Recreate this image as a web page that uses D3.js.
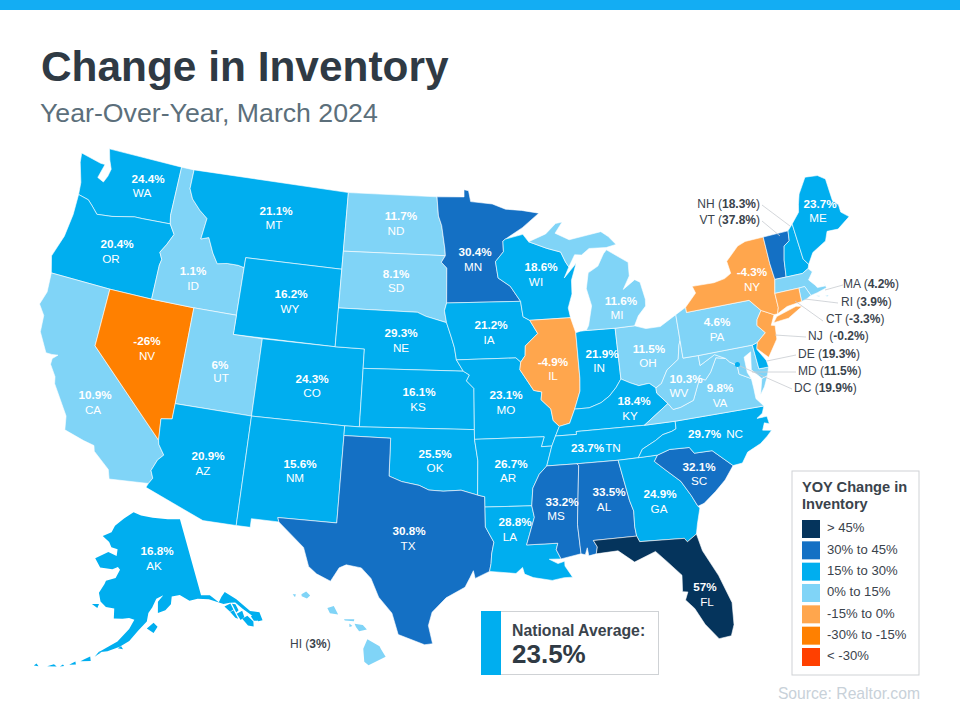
<!DOCTYPE html>
<html><head><meta charset="utf-8">
<script src="https://cdn.jsdelivr.net/npm/d3@7"></script>
<style>html,body{margin:0;padding:0;background:#fff}svg{display:block;font-family:"Liberation Sans",Arial,sans-serif}</style>
</head><body><svg id="c" width="960" height="720"></svg>
<script>
// ---------- data ----------
const stateCodes  = ["WA","OR","CA","NV","ID","MT","WY","UT","CO","AZ","NM","ND","SD","NE","KS","OK","TX","MN","IA","MO","AR","LA","WI","IL","MI","IN","OH","KY","TN","MS","AL","GA","FL","SC","NC","VA","WV","PA","NY","ME","AK","HI","NH","VT","MA","RI","CT","NJ","DE","MD","DC"];
const stateValues = [24.4,20.4,10.9,-26,1.1,21.1,16.2,6,24.3,20.9,15.6,11.7,8.1,29.3,16.1,25.5,30.8,30.4,21.2,23.1,26.7,28.8,18.6,-4.9,11.6,21.9,11.5,18.4,23.7,33.2,33.5,24.9,57,32.1,29.7,9.8,10.3,4.6,-4.3,23.7,16.8,3,18.3,37.8,4.2,3.9,-3.3,-0.2,19.3,11.5,19.9];
const legendLabels = ["> 45%","30% to 45%","15% to 30%","0% to 15%","-15% to 0%","-30% to -15%","< -30%"];
const legendBreaks = [-30,-15,0,15,30,45];
const binColors    = ["#ff4000","#ff8000","#ffa64d","#80d4f7","#00aeef","#1470c4","#05345c"];
const nationalAverage = "23.5%";

// state outlines as lon/lat rings
const outlines = {
WA:[[[-124.7,48.38],[-123.1,48.15],[-122.75,48.15],[-123,47.4],[-122.5,47.25],[-122.3,47.6],[-122.2,48],[-122.5,48.45],[-122.76,49],[-117.03,49],[-117.04,46.42],[-116.92,45.99],[-119,45.93],[-119.6,45.92],[-121.2,45.65],[-122.3,45.55],[-122.8,45.9],[-123.2,46.15],[-124,46.27],[-124.1,46.9],[-124.6,47.9]]],
OR:[[[-124,46.27],[-123.2,46.15],[-122.8,45.9],[-122.3,45.55],[-121.2,45.65],[-119.6,45.92],[-119,45.93],[-116.92,45.99],[-116.48,45.5],[-116.85,44.9],[-117.2,44.45],[-116.95,44.1],[-117.03,43.8],[-117.03,42],[-120,42],[-124.21,42],[-124.55,42.84],[-124.1,44],[-123.95,45.2]]],
CA:[[[-124.21,42],[-120,42],[-120,39],[-114.63,35],[-114.57,34.8],[-114.13,34.3],[-114.45,34],[-114.72,33.4],[-114.52,33.03],[-114.72,32.72],[-117.12,32.53],[-117.3,33],[-118.4,33.75],[-118.5,34.03],[-119.2,34.15],[-120.5,34.45],[-120.65,35.15],[-121.9,36.6],[-122,36.95],[-122.5,37.5],[-122.5,37.8],[-122.2,38.05],[-122.6,38],[-123,38],[-123.75,38.95],[-123.85,39.8],[-124.35,40.3],[-124.1,41]]],
NV:[[[-120,42],[-117.03,42],[-114.04,42],[-114.04,37],[-114.05,36.2],[-114.75,36.1],[-114.63,35],[-120,39]]],
ID:[[[-117.03,49],[-116.05,49],[-116.05,48],[-115.7,47.5],[-115,47],[-114.35,46.65],[-114.5,45.55],[-113.95,45.7],[-113.45,44.95],[-113,44.45],[-112.3,44.55],[-111.5,44.55],[-111.05,44.48],[-111.05,42],[-114.04,42],[-117.03,42],[-117.03,43.8],[-116.95,44.1],[-117.2,44.45],[-116.85,44.9],[-116.48,45.5],[-116.92,45.99],[-117.04,46.42]]],
MT:[[[-116.05,49],[-104.05,49],[-104.05,45.94],[-104.05,45],[-111.05,45],[-111.05,44.48],[-111.5,44.55],[-112.3,44.55],[-113,44.45],[-113.45,44.95],[-113.95,45.7],[-114.5,45.55],[-114.35,46.65],[-115,47],[-115.7,47.5],[-116.05,48]]],
WY:[[[-111.05,45],[-104.05,45],[-104.05,43],[-104.05,41],[-111.05,41],[-111.05,42],[-111.05,44.48]]],
UT:[[[-114.04,42],[-111.05,42],[-111.05,41],[-109.05,41],[-109.05,37],[-114.04,37]]],
CO:[[[-109.05,41],[-104.05,41],[-102.05,41],[-102.05,40],[-102.05,37],[-103,37],[-109.05,37]]],
AZ:[[[-114.75,36.1],[-114.05,36.2],[-114.04,37],[-109.05,37],[-109.05,31.33],[-111.07,31.33],[-114.82,32.5],[-114.72,32.72],[-114.52,33.03],[-114.72,33.4],[-114.45,34],[-114.13,34.3],[-114.57,34.8],[-114.63,35]]],
NM:[[[-109.05,37],[-103,37],[-103,36.5],[-103.04,32],[-106.62,32],[-106.53,31.78],[-108.2,31.78],[-108.2,31.33],[-109.05,31.33]]],
ND:[[[-104.05,49],[-97.23,49],[-97.1,48],[-96.85,47.5],[-96.6,46.3],[-96.56,45.94],[-104.05,45.94]]],
SD:[[[-104.05,45.94],[-96.56,45.94],[-96.85,45.6],[-96.45,45.3],[-96.45,43.5],[-96.6,43.1],[-96.45,42.49],[-97.9,42.8],[-98.5,43],[-104.05,43],[-104.05,45]]],
NE:[[[-104.05,43],[-98.5,43],[-97.9,42.8],[-96.45,42.49],[-96.1,41.7],[-95.9,41.2],[-95.77,40.58],[-95.31,40],[-102.05,40],[-102.05,41],[-104.05,41]]],
KS:[[[-102.05,40],[-95.31,40],[-94.9,39.8],[-95.1,39.5],[-94.61,39.11],[-94.62,37],[-102.05,37]]],
OK:[[[-103,37],[-102.05,37],[-94.62,37],[-94.62,36.5],[-94.43,35.4],[-94.48,33.64],[-95.5,33.9],[-96.6,33.85],[-97.5,33.9],[-98.1,34.13],[-99.2,34.3],[-100,34.56],[-100,36.5],[-103,36.5]]],
TX:[[[-103,36.5],[-100,36.5],[-100,34.56],[-99.2,34.3],[-98.1,34.13],[-97.5,33.9],[-96.6,33.85],[-95.5,33.9],[-94.48,33.64],[-94.04,33.55],[-94.04,33.02],[-94.04,32],[-93.55,31.2],[-93.7,30.6],[-93.75,30.1],[-93.85,29.7],[-94.7,29.35],[-94.8,29.75],[-95,29.4],[-95.3,28.9],[-96.4,28.35],[-97.2,27.6],[-97.4,26.9],[-97.15,25.96],[-97.6,25.9],[-99.1,26.4],[-99.5,27.5],[-100.3,28.3],[-100.8,29.25],[-101.4,29.77],[-102.3,29.88],[-102.7,29.7],[-103.15,28.98],[-104,29.3],[-104.5,29.65],[-104.9,30.6],[-106.53,31.78],[-106.62,32],[-103.04,32]]],
MN:[[[-97.23,49],[-95.15,49],[-95.15,49.38],[-94.8,49.32],[-94.65,48.75],[-93,48.6],[-92,48.3],[-90.8,48.2],[-89.5,48],[-90.8,47.3],[-92.1,46.75],[-92.3,46.65],[-92.29,46.1],[-92.9,45.6],[-92.75,44.75],[-91.9,44.3],[-91.22,43.5],[-96.45,43.5],[-96.45,45.3],[-96.85,45.6],[-96.56,45.94],[-96.6,46.3],[-96.85,47.5],[-97.1,48]]],
IA:[[[-96.45,43.5],[-91.22,43.5],[-91.1,42.7],[-90.65,42.5],[-90.15,41.8],[-91.05,41.2],[-91.1,40.7],[-91.42,40.38],[-91.73,40.61],[-95.77,40.58],[-95.9,41.2],[-96.1,41.7],[-96.45,42.49],[-96.6,43.1]]],
MO:[[[-95.77,40.58],[-91.73,40.61],[-91.42,40.38],[-91.5,40],[-90.65,38.9],[-90.12,38.8],[-90.2,38.4],[-89.6,37.9],[-89.5,37.3],[-89.13,36.98],[-89.42,36.5],[-89.7,36],[-90.37,36],[-90.15,36.5],[-94.62,36.5],[-94.62,37],[-94.61,39.11],[-95.1,39.5],[-94.9,39.8],[-95.31,40]]],
AR:[[[-94.62,36.5],[-90.15,36.5],[-90.37,36],[-89.7,36],[-90.1,35],[-90.6,34.6],[-91.05,33.9],[-91.17,33],[-94.04,33.02],[-94.04,33.55],[-94.48,33.64],[-94.43,35.4]]],
LA:[[[-94.04,33.02],[-91.17,33],[-91.05,32.4],[-91.6,31],[-89.73,31],[-89.85,30.67],[-89.6,30.18],[-90.3,30.2],[-89.8,29.95],[-89.4,30.05],[-89.4,29.8],[-89,29.2],[-89.5,29.2],[-90.2,29.1],[-91.3,29.3],[-91.8,29.5],[-91.9,29.85],[-92.3,29.55],[-93.85,29.7],[-93.75,30.1],[-93.7,30.6],[-93.55,31.2],[-94.04,32]]],
WI:[[[-92.3,46.65],[-92.1,46.75],[-90.8,46.95],[-90.4,46.55],[-89.1,46.15],[-88.1,45.9],[-87.8,45.35],[-87.6,45.1],[-88,44.55],[-87.05,45.25],[-87.5,44.4],[-87.55,43.7],[-87.9,43],[-87.8,42.49],[-90.65,42.5],[-91.1,42.7],[-91.22,43.5],[-91.9,44.3],[-92.75,44.75],[-92.9,45.6],[-92.29,46.1]]],
IL:[[[-90.65,42.5],[-87.8,42.49],[-87.53,41.7],[-87.53,39.35],[-87.6,38.7],[-87.95,38],[-88.05,37.8],[-88.45,37.1],[-89.13,36.98],[-89.5,37.3],[-89.6,37.9],[-90.2,38.4],[-90.12,38.8],[-90.65,38.9],[-91.5,40],[-91.42,40.38],[-91.1,40.7],[-91.05,41.2],[-90.15,41.8]]],
IN:[[[-87.53,41.7],[-87.2,41.75],[-86.8,41.76],[-84.8,41.72],[-84.82,39.1],[-85.2,38.7],[-85.7,38.3],[-86.3,38],[-87.1,37.8],[-88.05,37.8],[-87.95,38],[-87.6,38.7],[-87.53,39.35]]],
OH:[[[-84.8,41.72],[-83.45,41.72],[-82.7,41.5],[-81.7,41.5],[-80.52,41.98],[-80.52,40.64],[-80.65,40.4],[-80.85,39.7],[-81.7,39.25],[-82.2,38.6],[-82.6,38.42],[-83,38.7],[-83.7,38.65],[-84.25,38.85],[-84.82,39.1]]],
KY:[[[-84.82,39.1],[-84.25,38.85],[-83.7,38.65],[-83,38.7],[-82.6,38.42],[-82.6,38.15],[-81.97,37.54],[-83.68,36.6],[-86.5,36.65],[-88.07,36.65],[-88.07,36.5],[-89.42,36.5],[-89.13,36.98],[-88.45,37.1],[-88.05,37.8],[-87.1,37.8],[-86.3,38],[-85.7,38.3],[-85.2,38.7]]],
TN:[[[-90.1,35],[-89.7,36],[-89.42,36.5],[-88.07,36.5],[-88.07,36.65],[-86.5,36.65],[-83.68,36.6],[-81.68,36.59],[-81.7,36.2],[-82,36.1],[-82.6,36],[-83.1,35.75],[-84,35.4],[-84.32,34.99],[-85.6,34.98],[-88.2,35]]],
MS:[[[-90.1,35],[-88.2,35],[-88.1,34.9],[-88.47,31.9],[-88.4,30.37],[-89.6,30.18],[-89.85,30.67],[-89.73,31],[-91.6,31],[-91.05,32.4],[-91.17,33],[-91.05,33.9],[-90.6,34.6]]],
AL:[[[-88.2,35],[-85.6,34.98],[-85.18,32.87],[-85,32.3],[-85.05,31.5],[-85,31],[-87.6,31],[-87.4,30.65],[-87.5,30.3],[-87.95,30.23],[-88,30.65],[-88.15,30.3],[-88.4,30.37],[-88.47,31.9],[-88.1,34.9]]],
GA:[[[-85.6,34.98],[-84.32,34.99],[-83.1,35],[-83.35,34.7],[-82.75,34.2],[-81.9,33.5],[-81.4,32.7],[-81.1,32.1],[-81,32],[-81.3,31.2],[-81.45,30.7],[-82.05,30.37],[-82.2,30.57],[-84.86,30.7],[-85,31],[-85.05,31.5],[-85,32.3],[-85.18,32.87]]],
FL:[[[-87.6,31],[-85,31],[-84.86,30.7],[-82.2,30.57],[-82.05,30.37],[-81.45,30.7],[-81.25,29.8],[-80.55,28.4],[-80.05,26.9],[-80.15,25.75],[-80.4,25.2],[-81.1,25.15],[-81.75,26],[-82.2,26.9],[-82.65,27.4],[-82.45,27.8],[-82.75,27.85],[-82.65,28.7],[-83.4,29.5],[-84,30.1],[-85.3,29.68],[-86.2,30.35],[-87.5,30.3],[-87.4,30.65]]],
SC:[[[-83.1,35],[-82.3,35.2],[-81.05,35.15],[-80.8,34.82],[-79.67,34.8],[-78.55,33.86],[-79.2,33.2],[-79.9,32.7],[-80.7,32.2],[-81.1,32.1],[-81.4,32.7],[-81.9,33.5],[-82.75,34.2],[-83.35,34.7]]],
NC:[[[-84.32,34.99],[-83.1,35],[-82.3,35.2],[-81.05,35.15],[-80.8,34.82],[-79.67,34.8],[-78.55,33.86],[-77.95,33.9],[-77.5,34.4],[-76.6,34.7],[-76.1,35],[-75.75,35.25],[-76.3,35.35],[-76.1,35.7],[-75.8,35.6],[-75.85,36],[-76.5,36],[-76.1,36.2],[-75.9,36.55],[-81.68,36.59],[-81.7,36.2],[-82,36.1],[-82.6,36],[-83.1,35.75],[-84,35.4]]],
VA:[[[-83.68,36.6],[-81.68,36.59],[-75.9,36.55],[-76.3,37],[-76.3,37.55],[-76.32,38.05],[-77.05,38.4],[-77.05,38.85],[-77.5,39.1],[-77.72,39.32],[-78.35,39.45],[-78.87,38.77],[-79.3,38.42],[-79.65,38.57],[-80.3,37.5],[-81.2,37.25],[-81.7,37.2],[-81.97,37.54]],[[-75.95,37.15],[-75.65,37.95],[-75.25,38.03],[-75.6,37.5]]],
WV:[[[-82.6,38.42],[-82.2,38.6],[-81.7,39.25],[-80.85,39.7],[-80.65,40.4],[-80.52,40.64],[-80.52,39.72],[-79.48,39.72],[-79.48,39.2],[-78.4,39.62],[-77.72,39.32],[-78.35,39.45],[-78.87,38.77],[-79.3,38.42],[-79.65,38.57],[-80.3,37.5],[-81.2,37.25],[-81.7,37.2],[-81.97,37.54],[-82.6,38.15]]],
MD:[[[-79.48,39.72],[-75.79,39.72],[-75.7,38.46],[-75.05,38.45],[-75.25,38.03],[-75.65,37.95],[-76.2,38.5],[-76,39.4],[-76.5,39.2],[-76.5,38.4],[-76.32,38.05],[-77.05,38.4],[-77.05,38.85],[-77.5,39.1],[-77.72,39.32],[-78.4,39.62],[-79.48,39.2]]],
DE:[[[-75.79,39.72],[-75.42,39.8],[-75.55,39.45],[-75.1,38.8],[-75.05,38.45],[-75.7,38.46]]],
PA:[[[-80.52,41.98],[-79.76,42.27],[-79.76,42],[-75.35,42],[-74.7,41.36],[-75.1,40.95],[-75.2,40.65],[-74.75,40.2],[-75.42,39.8],[-75.79,39.72],[-79.48,39.72],[-80.52,39.72],[-80.52,40.64]]],
NJ:[[[-74.7,41.36],[-73.9,41],[-74.25,40.5],[-74,40.45],[-74.1,39.75],[-74.9,38.93],[-75.55,39.5],[-75.42,39.8],[-74.75,40.2],[-75.2,40.65],[-75.1,40.95]]],
NY:[[[-79.76,42.27],[-79.76,42],[-75.35,42],[-74.7,41.36],[-73.9,41],[-73.65,41],[-73.5,41.3],[-73.5,42.05],[-73.27,42.75],[-73.35,43.6],[-73.35,45.01],[-74.7,45],[-75.3,44.85],[-76.3,44.2],[-76.2,43.55],[-76.7,43.35],[-77.5,43.25],[-79.05,43.27],[-78.9,42.9]],[[-74.05,40.6],[-73.75,40.87],[-72.3,41.15],[-71.9,41.07],[-73,40.65]]],
VT:[[[-73.35,45.01],[-71.5,45.01],[-71.6,44.5],[-72.05,44.3],[-72.3,43.6],[-72.46,42.73],[-73.27,42.75],[-73.35,43.6]]],
NH:[[[-71.5,45.01],[-71.08,45.3],[-70.98,43.4],[-70.7,43.07],[-70.82,42.87],[-71.3,42.7],[-72.46,42.73],[-72.3,43.6],[-72.05,44.3],[-71.6,44.5]]],
ME:[[[-71.08,45.3],[-70.4,45.8],[-70.25,46.2],[-70,46.7],[-69.23,47.46],[-68.3,47.36],[-67.8,47.07],[-67.78,45.9],[-67.45,45.6],[-67.45,45.2],[-66.97,44.85],[-68,44.4],[-68.8,44.45],[-69.1,44],[-70.2,43.6],[-70.7,43.07],[-70.98,43.4]]],
MA:[[[-73.5,42.05],[-73.27,42.75],[-72.46,42.73],[-71.3,42.7],[-70.82,42.87],[-70.6,42.65],[-71,42.3],[-70.65,41.95],[-70.55,41.8],[-70,41.78],[-70.05,42.05],[-69.95,41.67],[-70.65,41.55],[-71.12,41.5],[-71.38,42.02],[-71.8,42.02]],[[-70.8,41.45],[-70.5,41.35],[-70.65,41.35]],[[-70.2,41.3],[-69.95,41.28],[-70.05,41.22]]],
RI:[[[-71.8,42.02],[-71.38,42.02],[-71.12,41.5],[-71.5,41.37],[-71.85,41.32]]],
CT:[[[-73.5,42.05],[-71.8,42.02],[-71.85,41.32],[-72.9,41.25],[-73.65,41],[-73.5,41.3]]],
MI:[[[-86.8,41.76],[-84.8,41.72],[-83.45,41.72],[-83.1,42.2],[-82.5,42.65],[-82.45,43],[-82.65,43.9],[-83,44.07],[-83.9,43.65],[-83.35,44.3],[-83.3,45],[-84.75,45.78],[-85,45.6],[-85.5,45],[-86.25,44.7],[-86.5,43.9],[-86.25,43],[-86.6,42]],[[-90.4,46.55],[-89.1,46.9],[-88.3,47.4],[-87.8,47.45],[-88.4,46.9],[-87.4,46.5],[-86,46.65],[-85,46.75],[-84.5,46.45],[-84,46],[-84.75,45.9],[-86,45.95],[-86.6,45.65],[-87.1,45.7],[-87.6,45.1],[-87.8,45.35],[-88.1,45.9],[-89.1,46.15]]],
AK:[[[-141,69.65],[-141,60.3],[-139,60],[-137.5,58.9],[-136.5,59.4],[-135.4,59.8],[-133.5,58.5],[-131.7,56.6],[-130,56],[-130.1,55],[-131,55.1],[-131.9,56.2],[-133,57.2],[-134,58.2],[-135.2,58.4],[-136.6,58.5],[-139.5,59.6],[-142,60],[-144,60],[-146,60.9],[-148,60.9],[-148.5,60],[-150,59.4],[-151.8,59.2],[-151.5,60.5],[-150,61.2],[-151.8,60.9],[-153,59.9],[-154,59.3],[-154.5,58.3],[-156.5,57.3],[-158.5,56.1],[-160.5,55.4],[-163,54.8],[-164.8,54.6],[-163,55.3],[-161,56],[-158.5,57.5],[-157.3,58.6],[-158.5,58.8],[-160,58.7],[-162,58.7],[-162,59.9],[-164,60],[-165.4,60.6],[-166,61.6],[-164.8,62.7],[-164.5,63.1],[-162,63.5],[-160.9,64.5],[-161.5,64.8],[-163,64.5],[-166.4,64.6],[-168.1,65.6],[-164.5,66.5],[-162,66.1],[-161.8,66.9],[-163.7,67.1],[-164.5,67.7],[-166.7,68.35],[-164,68.9],[-163,69.7],[-160,70.6],[-156.6,71.35],[-154,70.9],[-150,70.5],[-145,70]],[[-154.6,57.5],[-153.2,56.9],[-152.2,57.6],[-153,58.1]],[[-167.4,60.2],[-165.7,60.3],[-166,59.8]],[[-168.2,53.3],[-166.2,53.5],[-166.4,54],[-167.5,53.6]],[[-170.3,52.7],[-169,52.85],[-169.2,53.2]],[[-174.4,52],[-172.6,52.2],[-173.2,52.4]],[[-176.9,51.7],[-176,51.75],[-176.5,52]],[[-172,52.3],[-171.2,52.45],[-171.5,52.6]],[[-165.5,54.05],[-164.9,54.35],[-164.2,54.65],[-164.7,54.7]],[[-160.9,55.2],[-159.8,55.1],[-160.2,55.45]],[[-136.6,58.2],[-135.1,58.3],[-134.95,57.5],[-135.8,57.4]],[[-135.8,57.35],[-134.95,57.4],[-134.7,56.3],[-135.2,56.5]],[[-134.8,58.2],[-134.1,58],[-133.95,57.2],[-134.6,57.05]],[[-134.6,56.9],[-133.25,57],[-133.35,56.2],[-134.3,56.05]],[[-133.9,56.1],[-132.65,56.2],[-131.95,55.3],[-132.3,54.75],[-133.3,55.1]],[[-132,56],[-131.25,55.9],[-131.15,55.2],[-131.8,55.35]]],
HI:[[[-155.9,20.25],[-155.2,19.98],[-155.1,19.85],[-154.8,19.5],[-155.65,18.95],[-155.9,19.1],[-156.05,19.75]],[[-156.7,20.95],[-156.25,20.95],[-156,20.75],[-156.4,20.6],[-156.6,20.8]],[[-157.3,21.1],[-156.75,21.17],[-156.75,21.07],[-157.25,21.05]],[[-156.98,20.92],[-156.8,20.82],[-156.95,20.75]],[[-158.28,21.55],[-157.95,21.7],[-157.65,21.3],[-158.1,21.3]],[[-159.78,22.05],[-159.55,22.23],[-159.3,22.05],[-159.45,21.88],[-159.75,21.95]],[[-160.25,21.98],[-160.08,22],[-160.1,21.85]]]
};

// ---------- layout (screen positions of text and boxes) ----------
const W=960,H=720;
const onMapCodes=["WA","OR","CA","NV","ID","MT","WY","UT","CO","AZ","NM","ND","SD","NE","KS","OK","TX","MN","IA","MO","AR","LA","WI","IL","MI","IN","OH","KY","MS","AL","GA","FL","SC","VA","WV","PA","NY","ME","AK"];
const onMapValueXY=[[148,180],[117,245],[95,396],[147,342],[193,272],[276,212],[291,295],[220,366],[312,380],[208,457],[300,465],[401,217],[396,275],[401,334],[419,393],[435,455],[409,532],[475,253],[491,326],[506,396],[511,465],[515,523],[541,268],[553,363],[621,302],[602,355],[649,350],[634,402],[562,503],[609,493],[660,495],[705,588],[699,468],[720,389],[686,380],[717,323],[752,273],[820,205],[157,552]];
const onMapNameXY=[[142,194],[111,260],[93,411],[147,357],[193,287],[274,226],[290,310],[221,379],[312,394],[203,472],[295,479],[396,232],[396,289],[401,349],[418,408],[435,469],[408,547],[473,268],[489,341],[506,411],[508,479],[510,538],[536,283],[553,377],[617,316],[599,369],[648,364],[630,417],[556,517],[604,508],[659,510],[707,603],[699,482],[720,404],[679,394],[717,338],[752,288],[818,219],[154,567]];
const inlineCodes=["TN","NC"];
const inlineXY=[[571,449],[688,435]];
const calloutCodes=["NH","VT","MA","RI","CT","NJ","DE","MD","DC","HI"];
const calloutAnchor=["end","end","start","start","start","start","start","start","start","start"];
const calloutXY=[[760,205],[760,221],[843,285],[841,303],[826,320],[808,337],[798,355],[798,372],[794,389],[290,645]];
const leaderEnds=[[[762,205],[790,226]],[[762,221],[780,236]],[[843,285],[825,290]],[[838,303],[805,299]],[[823,321],[795,301]],[[806,337],[775,335]],[[796,355],[767,361]],[[796,372],[752,372]],[[792,389],[740,366]],null];

// ---------- scales ----------
const color=d3.scaleThreshold().domain(legendBreaks).range(binColors);
const valueOf=c=>stateValues[stateCodes.indexOf(c)];
const fmt=c=>valueOf(c)+"%";

// ---------- projections ----------
const fixRing=r=>{const c=r.concat([r[0]]);return d3.geoArea({type:"Polygon",coordinates:[c]})>2*Math.PI?c.slice().reverse():c;};
const toFeature=code=>({type:"Feature",id:code,geometry:{type:"MultiPolygon",coordinates:outlines[code].map(r=>[fixRing(r)])}});
const base=d3.geoConicEqualArea().parallels([29.5,45.5]).rotate([96,0]).center([0,37.5]).scale(1108).translate([0,0]);
const xStretch=1122/1108, originX=453, originY=420;
const lower={stream:s=>base.stream({point:(x,y)=>s.point(originX+x*xStretch,originY+y),lineStart:()=>s.lineStart(),lineEnd:()=>s.lineEnd(),polygonStart:()=>s.polygonStart(),polygonEnd:()=>s.polygonEnd(),sphere:()=>{}})};
const anchored=(proj,ll,xy)=>{const p=proj.translate([0,0])(ll);return proj.translate([xy[0]-p[0],xy[1]-p[1]]);};
const alaska=anchored(d3.geoConicEqualArea().parallels([55,65]).rotate([159,0]).center([0,58.5]).scale(484),[-130,55],[263,620]);
const hawaii=anchored(d3.geoConicEqualArea().parallels([8,18]).rotate([121,0]).center([0,20]).scale(1128),[-155.5,19.6],[373,653]);
const pathFor=c=>d3.geoPath(c==="AK"?alaska:c==="HI"?hawaii:lower);

// ---------- draw ----------
const svg=d3.select("#c");
svg.append("rect").attr("width",W).attr("height",H).attr("fill","#fff");
svg.append("rect").attr("width",W).attr("height",10).attr("fill","#13adf3");
svg.append("text").attr("x",41).attr("y",81).attr("font-size",42.4).attr("font-weight",700).attr("fill","#2f3a44").text("Change in Inventory");
svg.append("text").attr("x",40).attr("y",122).attr("font-size",26.7).attr("fill","#5c6f7b").text("Year-Over-Year, March 2024");

svg.append("g").selectAll("path").data(Object.keys(outlines).map(toFeature)).join("path")
  .attr("d",d=>pathFor(d.id)(d))
  .attr("fill",d=>color(valueOf(d.id)))
  .attr("stroke",d=>(d.id==="AK"||d.id==="HI")?"none":"#fff")
  .attr("stroke-opacity",.75)
  .attr("stroke-width",.8)
  .attr("stroke-linejoin","round");

// DC marker
const dcRaw=base([-77.03,38.9]);
svg.append("circle").attr("cx",originX+dcRaw[0]*xStretch).attr("cy",originY+dcRaw[1]).attr("r",2.5).attr("fill",color(valueOf("DC")));

// on-map labels
const gl=svg.append("g").attr("fill","#fff").attr("font-size",11.7).attr("text-anchor","middle").attr("dominant-baseline","middle");
onMapCodes.forEach((c,i)=>{
  gl.append("text").attr("x",onMapValueXY[i][0]).attr("y",onMapValueXY[i][1]).attr("font-weight",700).text(fmt(c));
  gl.append("text").attr("x",onMapNameXY[i][0]).attr("y",onMapNameXY[i][1]).text(c);
});
inlineCodes.forEach((c,i)=>{
  const t=svg.append("text").attr("x",inlineXY[i][0]).attr("y",inlineXY[i][1]).attr("fill","#fff").attr("font-size",11.7).attr("dominant-baseline","middle");
  t.append("tspan").attr("font-weight",700).text(fmt(c));
  t.append("tspan").attr("dx",c==="NC"?5:1).text(c);
});

// callouts
const gc=svg.append("g").attr("font-size",12).attr("fill","#3a434c");
calloutCodes.forEach((c,i)=>{
  if(leaderEnds[i]) gc.append("line").attr("x1",leaderEnds[i][0][0]).attr("y1",leaderEnds[i][0][1]).attr("x2",leaderEnds[i][1][0]).attr("y2",leaderEnds[i][1][1]).attr("stroke","#c8ccd0").attr("stroke-width",.8);
  const t=gc.append("text").attr("x",calloutXY[i][0]).attr("y",calloutXY[i][1]).attr("text-anchor",calloutAnchor[i]).attr("dominant-baseline","middle");
  t.append("tspan").text(c==="NJ"?"NJ\u00a0\u00a0(":c+" (");
  t.append("tspan").attr("font-weight",700).text(fmt(c));
  t.append("tspan").text(")");
});

// national average
svg.append("rect").attr("x",481.5).attr("y",611.5).attr("width",177).attr("height",63).attr("fill","#fff").attr("stroke","#cfd2d5");
svg.append("rect").attr("x",481).attr("y",611).attr("width",20).attr("height",64).attr("fill","#00aeef");
svg.append("text").attr("x",512).attr("y",636).attr("font-size",15.8).attr("font-weight",700).attr("fill","#3a434c").text("National Average:");
svg.append("text").attr("x",512).attr("y",663).attr("font-size",26).attr("font-weight",700).attr("fill","#2f3a44").text(nationalAverage);

// legend
svg.append("rect").attr("x",792).attr("y",471).attr("width",127).attr("height",204).attr("fill","#fff").attr("stroke","#cfd2d5");
svg.append("text").attr("x",802).attr("y",492).attr("font-size",14.6).attr("font-weight",700).attr("fill","#3a434c").text("YOY Change in");
svg.append("text").attr("x",802).attr("y",509).attr("font-size",14.6).attr("font-weight",700).attr("fill","#3a434c").text("Inventory");
const legendY=d3.scalePoint().domain(legendLabels).range([520,648]);
const lg=svg.append("g").selectAll("g").data(legendLabels).join("g");
lg.append("rect").attr("x",802).attr("y",d=>legendY(d)).attr("width",18).attr("height",18).attr("fill",(d,i)=>binColors[binColors.length-1-i]);
lg.append("text").attr("x",827).attr("y",d=>legendY(d)+9).attr("dominant-baseline","middle").attr("font-size",13.1).attr("fill","#3a434c").text(d=>d);

svg.append("text").attr("x",920).attr("y",699).attr("text-anchor","end").attr("font-size",15.7).attr("fill","#c8d1d9").text("Source: Realtor.com");
</script></body></html>
